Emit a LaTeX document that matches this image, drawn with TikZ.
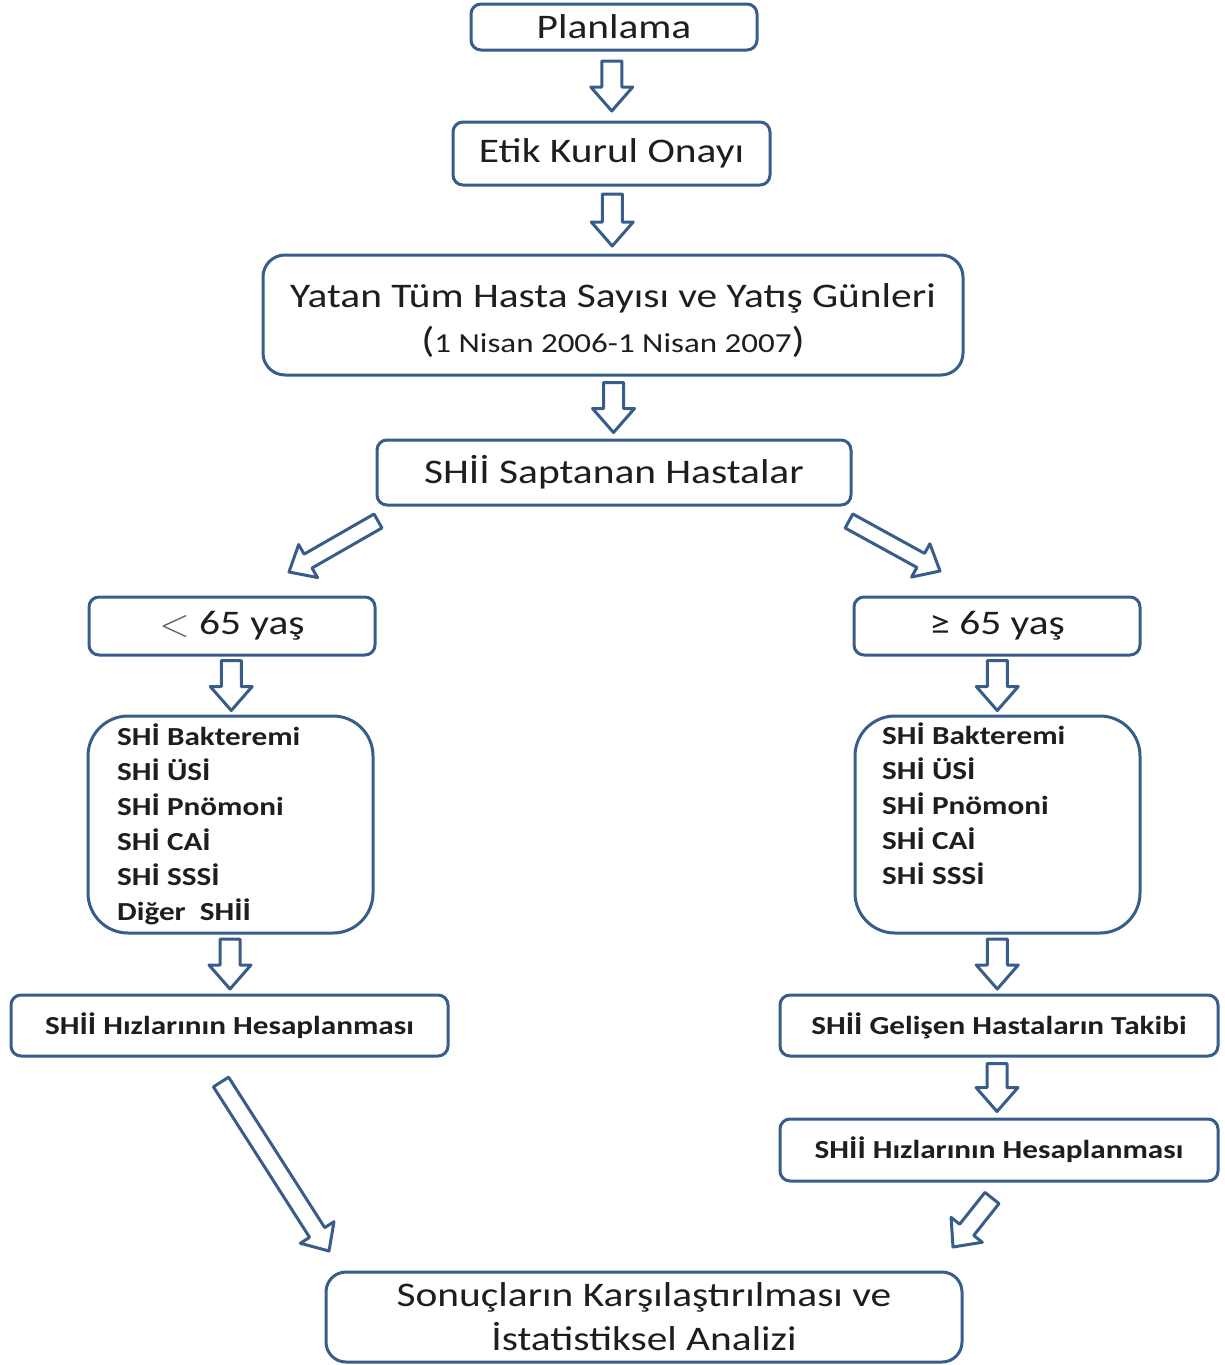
\documentclass[tikz,border=0pt]{standalone}
\usepackage{fontspec}
\setmainfont{Carlito}[FakeStretch=1.2]
\usetikzlibrary{calc}
\definecolor{bord}{HTML}{385D8A}
\definecolor{txt}{HTML}{1E1E1E}
\newcommand{\fbig}{\fontsize{34.5}{44}\selectfont}
\newcommand{\fmid}{\fontsize{26}{35}\selectfont}
% tail, tip, shaft half width, head half width, head length
\newcommand{\blockarrow}[5]{%
  \coordinate (ba-h) at ($(#2)!#5!(#1)$);
  \draw[barrow] ($(#1)!#3!90:(#2)$) -- ($(ba-h)!#3!90:(#2)$) -- ($(ba-h)!#4!90:(#2)$) -- (#2)
    -- ($(ba-h)!#4!-90:(#2)$) -- ($(ba-h)!#3!-90:(#2)$) -- ($(#1)!#3!-90:(#2)$) -- cycle;
}
\begin{document}
\begin{tikzpicture}[x=1pt,y=-1pt,
  box/.style={draw=bord, line width=3pt, rounded corners=10pt, fill=white, inner sep=0pt, text=txt, align=center, font=\fbig},
  smallbox/.style={box, font=\fmid\bfseries},
  listbox/.style={box, rounded corners=40pt},
  listtxt/.style={inner sep=0pt, align=left, text=txt, font=\fmid\bfseries},
  barrow/.style={draw=bord, line width=3pt, fill=white, line join=round}]
\useasboundingbox (0,0) rectangle (1225,1365);

\node[box, minimum width=286pt, minimum height=46pt] (plan) at (614,27) {Planlama};
\node[box, minimum width=317pt, minimum height=63pt] (etik) at (611.5,153.5) {Etik Kurul Onayı};
\node[box, rounded corners=22pt, minimum width=700pt, minimum height=120pt] (yatan) at (613,315)
  {\rule{0pt}{34pt}Yatan Tüm Hasta Sayısı ve Yatış Günleri\\[1pt]{\fontsize{36}{36}\selectfont(}{\fontsize{27.5}{30}\selectfont 1 Nisan 2006-1 Nisan 2007}{\fontsize{36}{36}\selectfont)}};
\node[box, minimum width=474pt, minimum height=65pt] (shii) at (614,472.5) {SHİİ Saptanan Hastalar};
\node[box, minimum width=286pt, minimum height=58pt] (lt) at (232,626) {{\color{txt!70}\raisebox{-2pt}{\scalebox{1.6}{$<$}}} 65 yaş};
\node[box, minimum width=286pt, minimum height=58pt] (ge) at (997,626) {≥ 65 yaş};
\node[listbox, minimum width=285pt, minimum height=217pt] (llist) at (230.5,824.5) {};
\node[listbox, minimum width=285pt, minimum height=217pt] (rlist) at (997.5,824.5) {};
\node[listtxt, anchor=north west] (ltxt) at (117,724) {SHİ Bakteremi\\SHİ ÜSİ\\SHİ Pnömoni\\SHİ CAİ\\SHİ SSSİ\\Diğer~~SHİİ};
\node[listtxt, anchor=north west] (rtxt) at (882,723) {SHİ Bakteremi\\SHİ ÜSİ\\SHİ Pnömoni\\SHİ CAİ\\SHİ SSSİ};
\node[smallbox, minimum width=437pt, minimum height=61pt] (lhiz) at (229.5,1025.5) {SHİİ Hızlarının Hesaplanması};
\node[smallbox, minimum width=438pt, minimum height=61pt] (rgel) at (999,1025.5) {SHİİ Gelişen Hastaların Takibi};
\node[smallbox, minimum width=438pt, minimum height=62pt] (rhiz) at (999,1150) {SHİİ Hızlarının Hesaplanması};
\node[box, rounded corners=20pt, minimum width=636pt, minimum height=90pt] (sonuc) at (644,1317)
  {Sonuçların Karşılaştırılması ve\\İstatistiksel Analizi};

% vertical arrows
\coordinate (a1s) at ($(plan.south)!.5!(etik.north)+(-1,-25)$);
\coordinate (a1e) at ($(plan.south)!.5!(etik.north)+(-1,25)$);
\coordinate (a2s) at ($(etik.south)!.5!(yatan.north)+(0,-26)$);
\coordinate (a2e) at ($(etik.south)!.5!(yatan.north)+(0,26)$);
\coordinate (a3s) at ($(yatan.south)!.5!(shii.north)+(0,-25)$);
\coordinate (a3e) at ($(yatan.south)!.5!(shii.north)+(0,25)$);
\coordinate (a4s) at ($(lt.south)!.5!(llist.north)+(0,-25)$);
\coordinate (a4e) at ($(lt.south)!.5!(llist.north)+(0,25)$);
\coordinate (a5s) at ($(ge.south)!.5!(rlist.north)+(0,-25)$);
\coordinate (a5e) at ($(ge.south)!.5!(rlist.north)+(0,25)$);
\coordinate (a6s) at ($(llist.south)!.5!(lhiz.north)+(0,-25)$);
\coordinate (a6e) at ($(llist.south)!.5!(lhiz.north)+(0,25)$);
\coordinate (a7s) at ($(rlist.south)!.5!(rgel.north)+(-1,-25)$);
\coordinate (a7e) at ($(rlist.south)!.5!(rgel.north)+(-1,25)$);
\coordinate (a8s) at ($(rgel.south)!.5!(rhiz.north)+(-2,-24)$);
\coordinate (a8e) at ($(rgel.south)!.5!(rhiz.north)+(-2,24)$);
\foreach \n in {1,...,8}{\blockarrow{a\n s}{a\n e}{10pt}{21pt}{24pt}}

% diagonal arrows
\coordinate (d1s) at (378,521);  \coordinate (d1e) at (289,572);
\coordinate (d2s) at (849,521);  \coordinate (d2e) at (940,571);
\coordinate (d3s) at (221,1082); \coordinate (d3e) at (329,1251);
\coordinate (d4s) at (992,1198); \coordinate (d4e) at (953,1247);
\blockarrow{d1s}{d1e}{8pt}{19pt}{22pt}
\blockarrow{d2s}{d2e}{8pt}{19pt}{22pt}
\blockarrow{d3s}{d3e}{9pt}{20pt}{22pt}
\blockarrow{d4s}{d4e}{9pt}{20pt}{22pt}
\end{tikzpicture}
\end{document}
